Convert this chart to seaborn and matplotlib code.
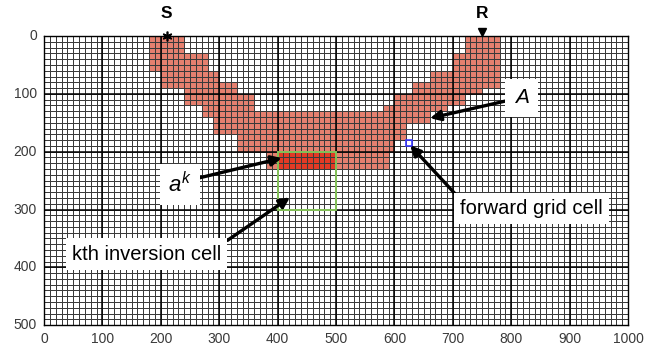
import matplotlib
matplotlib.use('Agg')
import matplotlib.pyplot as plt
import numpy as np
import seaborn as sns
from matplotlib.colors import ListedColormap

# Forward grid: 10 m cells on a 1000 x 500 model, inversion cells of 100 m
CELL = 10
X_MAX, Y_MAX = 1000, 500
INV = 100

# Ray-band segments (forward cells hit): top, bottom, left, right
band_top = [0, 30, 60, 80, 90, 100, 120, 130, 140, 150, 170, 180, 200,
            0, 30, 60, 80, 90, 100, 120]
band_bottom = [30, 60, 80, 90, 100, 120, 130, 140, 150, 170, 180, 200, 230,
               30, 60, 80, 90, 100, 120, 130]
band_left = [180, 180, 200, 200, 240, 240, 270, 270, 290, 290, 330, 330, 380,
             720, 700, 660, 630, 630, 600, 580]
band_right = [240, 280, 300, 330, 330, 360, 360, 660, 660, 620, 620, 600, 590,
              780, 780, 780, 780, 750, 720, 690]

# kth inversion cell (x0, y0) and highlighted forward cell (x0, y0)
inv_cell = (400, 200)
fwd_cell = (620, 180)

src_x, rec_x = 210, 750
tick_vals = list(range(0, X_MAX + 1, 100))
ytick_vals = list(range(0, Y_MAX + 1, 100))


def u(v):
    return v / CELL


grid = np.zeros((Y_MAX // CELL, X_MAX // CELL))
for t, b, l, r in zip(band_top, band_bottom, band_left, band_right):
    grid[t // CELL:b // CELL, l // CELL:r // CELL] = 1
iy, ix = inv_cell[1] // CELL, inv_cell[0] // CELL
n = INV // CELL
sub = grid[iy:iy + n, ix:ix + n]
sub[sub == 1] = 2

plt.rcParams['font.family'] = ['Liberation Sans', 'DejaVu Sans']
plt.rcParams['mathtext.fontset'] = 'custom'
plt.rcParams['mathtext.it'] = 'Liberation Sans:italic'
plt.rcParams['mathtext.rm'] = 'Liberation Sans'

fig = plt.figure(figsize=(6.57, 3.47), dpi=100)
ax = fig.add_axes([0.067, 0.063, 0.889, 0.833])

cmap = ListedColormap(['white', '#e5806f', '#e23a25'])
sns.heatmap(grid, ax=ax, cmap=cmap, vmin=0, vmax=2, cbar=False,
            linewidths=0.45, linecolor='#3a3a3a')

for v in range(INV, X_MAX, INV):
    ax.axvline(u(v), color='black', lw=1.1)
for v in range(INV, Y_MAX, INV):
    ax.axhline(u(v), color='black', lw=1.1)

for s in ax.spines.values():
    s.set_visible(True)
    s.set_color('black')
    s.set_linewidth(1.0)

ax.set_xticks([u(v) for v in tick_vals])
ax.set_xticklabels([str(v) for v in tick_vals], rotation=0)
ax.set_yticks([u(v) for v in ytick_vals])
ax.set_yticklabels([str(v) for v in ytick_vals], rotation=0)
ax.tick_params(length=0, labelsize=10, labelcolor='#3a3a3a', pad=5)
ax.set_xlim(0, u(X_MAX))
ax.set_ylim(u(Y_MAX), 0)

# inversion cell outline and forward cell
ax.add_patch(plt.Rectangle((u(inv_cell[0]), u(inv_cell[1])), n, n,
                           fill=False, ec='#86c45a', lw=1.4, zorder=4))
ax.add_patch(plt.Rectangle((u(fwd_cell[0]), u(fwd_cell[1])), 1, 1,
                           fill=False, ec='#3a3aff', lw=1.2, zorder=4))

# source and receiver
ax.plot(u(src_x), 0, marker=(6, 2, 0), ms=7, color='black', mew=1.2,
        clip_on=False, zorder=5)
ax.plot(u(rec_x), -0.7, marker='v', ms=6, color='black', clip_on=False, zorder=5)
ax.text(u(src_x), -3.9, 'S', ha='center', va='center', fontsize=12.5,
        fontweight='bold')
ax.text(u(rec_x), -3.9, 'R', ha='center', va='center', fontsize=12.5,
        fontweight='bold')


def arrow(rel):
    return dict(arrowstyle='-|>', color='black', lw=2.4, mutation_scale=15,
                shrinkA=0, shrinkB=0, relpos=rel)


box = dict(boxstyle='square,pad=0.3', fc='white', ec='none')

ax.annotate('A', xy=(u(661), u(142)), xytext=(u(818), u(107)),
            fontsize=15, style='italic', ha='center', va='center',
            bbox=dict(boxstyle='square,pad=0.45', fc='white', ec='none'),
            arrowprops=arrow((0, 0.45)), zorder=6)
ax.annotate(r'$a^k$', xy=(u(407), u(211)), xytext=(u(233), u(257)),
            fontsize=16, ha='center', va='center',
            bbox=dict(boxstyle='square,pad=0.35', fc='white', ec='none'),
            arrowprops=arrow((1, 0.7)), zorder=6)
ax.annotate('forward grid cell', xy=(u(627), u(189)), xytext=(u(835), u(299)),
            fontsize=14.5, ha='center', va='center',
            bbox=box, arrowprops=arrow((0, 1)), zorder=6)
ax.annotate('kth inversion cell', xy=(u(421), u(279)), xytext=(u(176), u(377)),
            fontsize=14.5, ha='center', va='center',
            bbox=box, arrowprops=arrow((1, 1)), zorder=6)

fig.savefig('out.png', dpi=100)
